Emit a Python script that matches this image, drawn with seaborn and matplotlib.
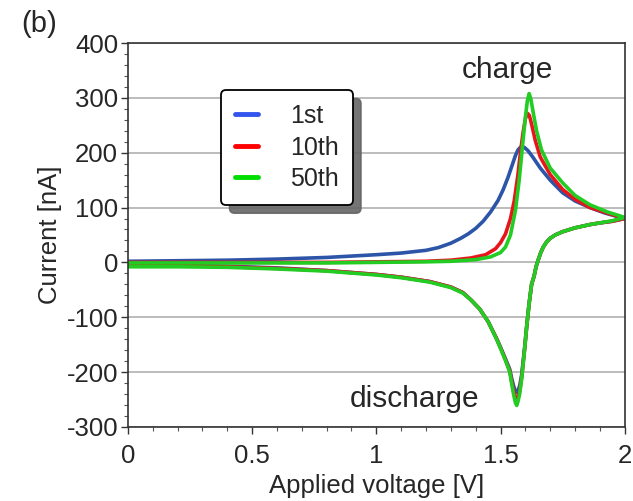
import matplotlib
matplotlib.use("Agg")
import matplotlib.pyplot as plt
import seaborn as sns
import pandas as pd
from matplotlib.ticker import MultipleLocator, FuncFormatter

# charge sweep (0 -> 2 V)
v_up_1st = [0, 0.2, 0.4, 0.6, 0.8, 1.0, 1.1, 1.2, 1.25, 1.3, 1.34, 1.37, 1.4, 1.43, 1.46,
            1.49, 1.51, 1.53, 1.545, 1.56, 1.57, 1.58, 1.595, 1.61, 1.63, 1.66, 1.7, 1.75,
            1.8, 1.86, 1.92, 2.0]
i_up_1st = [2, 3, 4, 6, 9, 14, 17, 22, 27, 35, 44, 52, 62, 75, 92,
            113, 132, 155, 175, 195, 205, 210, 210, 204, 192, 172, 150, 127,
            112, 100, 90, 80]

v_up_10th = [0, 0.4, 0.8, 1.0, 1.2, 1.3, 1.38, 1.44, 1.48, 1.5, 1.52, 1.54, 1.555, 1.57,
             1.58, 1.59, 1.6, 1.608, 1.616, 1.625, 1.64, 1.66, 1.7, 1.75, 1.8, 1.86,
             1.93, 2.0]
i_up_10th = [0, 0, 0, 1, 2, 4, 8, 14, 25, 36, 52, 80, 112, 160,
             200, 235, 262, 272, 268, 252, 222, 192, 160, 133, 115, 100,
             90, 80]

v_up_50th = [0, 0.4, 0.8, 1.0, 1.2, 1.3, 1.4, 1.46, 1.5, 1.52, 1.54, 1.56, 1.575, 1.59,
             1.6, 1.608, 1.615, 1.622, 1.632, 1.645, 1.665, 1.7, 1.75, 1.8, 1.86, 1.93,
             2.0]
i_up_50th = [-1, -1, -1, 0, 1, 2, 5, 10, 18, 28, 50, 95, 150, 220,
             265, 295, 308, 298, 272, 240, 205, 172, 145, 122, 105, 92,
             82]

# discharge sweep (2 -> 0 V)
v_down = [2.0, 1.95, 1.9, 1.86, 1.8, 1.75, 1.72, 1.7, 1.685, 1.672, 1.662, 1.652, 1.643,
          1.635, 1.625, 1.615, 1.605, 1.597, 1.585, 1.577, 1.57, 1.565, 1.56, 1.553, 1.545,
          1.537, 1.52, 1.5, 1.485, 1.45, 1.416, 1.38, 1.348, 1.3, 1.215, 1.1, 1.0, 0.8,
          0.6, 0.4, 0.2, 0.0]
i_down_1st = [80, 75, 72, 69, 63, 56, 50, 44, 37, 28, 18, 5, -8,
              -25, -40, -75, -118, -155, -205, -225, -234, -237, -235, -226, -212,
              -195, -176, -155, -140, -108, -85, -68, -55, -45, -35, -27, -22, -15,
              -10, -7, -5, -4]
i_down_10th = [80, 75, 72, 69, 63, 56, 50, 44, 37, 28, 18, 5, -8,
               -25, -40, -75, -118, -158, -210, -235, -246, -250, -247, -235, -218,
               -198, -178, -156, -140, -108, -85, -68, -55, -45, -35, -27, -22, -15,
               -11, -8, -6, -6]
i_down_50th = [82, 76, 72, 69, 63, 56, 50, 44, 37, 28, 18, 5, -8,
               -25, -40, -75, -118, -158, -212, -240, -254, -261, -256, -242, -222,
               -200, -179, -157, -141, -108, -85, -68, -56, -46, -36, -28, -23, -16,
               -12, -9, -8, -8]

cycles = ["1st", "10th", "50th"]
colors = ["#2c55a8", "#e8161c", "#22cc22"]
legend_colors = ["#3355ee", "#ff0000", "#00dd00"]

frames = []
for name, vu, iu, idn in [("1st", v_up_1st, i_up_1st, i_down_1st),
                          ("10th", v_up_10th, i_up_10th, i_down_10th),
                          ("50th", v_up_50th, i_up_50th, i_down_50th)]:
    frames.append(pd.DataFrame({"voltage": vu + v_down, "current": iu + idn, "cycle": name}))
df = pd.concat(frames, ignore_index=True)

sns.set_style("white")
plt.rcParams["font.family"] = ["Liberation Sans", "DejaVu Sans"]
plt.rcParams["axes.unicode_minus"] = False

fig = plt.figure(figsize=(6.33, 5.01), dpi=100)
ax = fig.add_axes([0.202, 0.148, 0.785, 0.766])

sns.lineplot(data=df, x="voltage", y="current", hue="cycle", hue_order=cycles,
             palette=colors, sort=False, estimator=None, lw=2.6, ax=ax, legend=False)

ax.set_xlim(0, 2)
ax.set_ylim(-300, 400)
ax.xaxis.set_major_locator(MultipleLocator(0.5))
ax.xaxis.set_minor_locator(MultipleLocator(0.1))
ax.yaxis.set_major_locator(MultipleLocator(100))
ax.yaxis.set_minor_locator(MultipleLocator(20))
ax.xaxis.set_major_formatter(FuncFormatter(lambda v, p: f"{v:g}"))
ax.tick_params(which="major", direction="out", length=5, width=1, labelsize=18.5,
               left=True, bottom=True, color="#333333", pad=2)
ax.tick_params(axis="x", which="major", pad=7)
ax.tick_params(which="minor", direction="out", length=3, width=0.8,
               left=True, bottom=True, color="#555555")
ax.grid(axis="y", which="major", color="#b0b0b0", lw=1.2)
ax.grid(axis="x", visible=False)
for s in ax.spines.values():
    s.set_color("#333333")
    s.set_linewidth(1.2)

ax.set_xlabel("Applied voltage [V]", fontsize=18.5, labelpad=5)
ax.set_ylabel("Current [nA]", fontsize=18.5, labelpad=3)

ax.text(1.529, 350, "charge", fontsize=21.5, ha="center", va="center")
ax.text(1.155, -250, "discharge", fontsize=21.5, ha="center", va="center")
fig.text(0.062, 0.953, "(b)", fontsize=21, ha="center", va="center")

handles = [plt.Line2D([], [], color=c, lw=3.5) for c in legend_colors]
leg = ax.legend(handles, cycles, loc="upper left", bbox_to_anchor=(0.188, 0.877),
                fontsize=18, handlelength=0.9, handletextpad=1.3, labelspacing=0.3,
                borderpad=0.55, borderaxespad=0, frameon=True, fancybox=True,
                shadow={"ox": 6, "oy": -6, "color": "#666666", "alpha": 0.9})
leg.get_frame().set_edgecolor("black")
leg.get_frame().set_linewidth(1.3)
leg.get_frame().set_facecolor("white")
leg.get_frame().set_alpha(1)

fig.savefig("out.png", dpi=100)
